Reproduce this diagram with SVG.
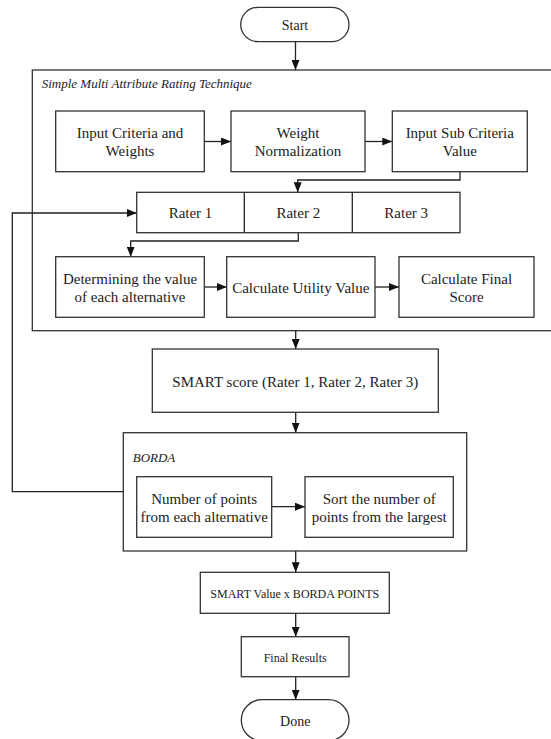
<svg xmlns="http://www.w3.org/2000/svg" width="551" height="739" viewBox="0 0 551 739">
<style>
  .box { fill: #fff; stroke: #333; stroke-width: 1.3; }
  .frame { fill: none; stroke: #333; stroke-width: 1.3; }
  .t { font-family: 'Liberation Serif', 'Times New Roman', Times, 'DejaVu Serif', serif; font-size: 15px; fill: #222; text-anchor: middle; }
  .s { font-size: 12px; }
  .term { font-size: 14px; }
  .lbl { font-family: 'Liberation Serif', 'Times New Roman', Times, 'DejaVu Serif', serif; font-size: 13px; font-style: italic; fill: #222; }
  .c { fill: none; stroke: #222; stroke-width: 1.3; marker-end: url(#ah); }
  .cn { fill: none; stroke: #222; stroke-width: 1.3; }
</style>
<defs>
  <marker id="ah" markerUnits="userSpaceOnUse" markerWidth="10" markerHeight="8" refX="10" refY="4" orient="auto">
    <path d="M0,0 L10,4 L0,8 z" fill="#111"/>
  </marker>
</defs>
<rect width="551" height="739" fill="#fff"/>

<g id="smart-frame">
  <rect class="frame" x="32.3" y="70" width="535" height="260.7"/>
  <text class="lbl" x="41.7" y="88">Simple Multi Attribute Rating Technique</text>
</g>
<g id="borda-frame">
  <rect class="frame" x="123.3" y="432.7" width="343.4" height="118.3"/>
  <text class="lbl" x="132.7" y="462">BORDA</text>
</g>

<g id="connectors">
  <path class="c" d="M295.5,41.7 V70"/>
  <path class="c" d="M204.3,141.5 H231"/>
  <path class="c" d="M365,141.5 H392.3"/>
  <path class="c" d="M460,171.7 V180 H297.7 V192.3"/>
  <path class="c" d="M298.3,232.7 V241 H130.7 V256.7"/>
  <path class="c" d="M204.3,287 H226.7"/>
  <path class="c" d="M375,287 H399"/>
  <path class="c" d="M295.7,330.7 V349"/>
  <path class="c" d="M295.7,412.3 V432.7"/>
  <path class="c" d="M271.7,506.7 H305"/>
  <path class="c" d="M123.3,491.7 H12.3 V213 H136.7"/>
  <path class="c" d="M295.7,551 V572.3"/>
  <path class="c" d="M295.7,613.3 V636.7"/>
  <path class="c" d="M295.7,676.7 V699.7"/>
</g>

<g id="start">
  <rect class="box" x="240.7" y="7.3" width="108.3" height="34.4" rx="17.2"/>
  <text class="t term" x="295" y="30">Start</text>
</g>

<g id="input-criteria">
  <rect class="box" x="55.7" y="111" width="148.6" height="60.7"/>
  <text class="t" x="130" y="138">Input Criteria and</text>
  <text class="t" x="130" y="156">Weights</text>
</g>
<g id="weight-normalization">
  <rect class="box" x="231" y="111" width="134" height="60.7"/>
  <text class="t" x="298" y="138">Weight</text>
  <text class="t" x="298" y="156">Normalization</text>
</g>
<g id="input-sub-criteria">
  <rect class="box" x="392.3" y="111" width="135" height="60.7"/>
  <text class="t" x="459.8" y="138">Input Sub Criteria</text>
  <text class="t" x="459.8" y="156">Value</text>
</g>

<g id="raters">
  <rect class="box" x="136.7" y="192.3" width="323.3" height="40.4"/>
  <line class="cn" x1="244.3" y1="192.3" x2="244.3" y2="232.7"/>
  <line class="cn" x1="352.3" y1="192.3" x2="352.3" y2="232.7"/>
  <text class="t" x="190.5" y="218">Rater 1</text>
  <text class="t" x="298.3" y="218">Rater 2</text>
  <text class="t" x="406.2" y="218">Rater 3</text>
</g>

<g id="determining-value">
  <rect class="box" x="55.7" y="256.7" width="148.6" height="60.6"/>
  <text class="t" x="130" y="284">Determining the value</text>
  <text class="t" x="130" y="302">of each alternative</text>
</g>
<g id="utility-value">
  <rect class="box" x="226.7" y="256.7" width="148.3" height="60.6"/>
  <text class="t" x="300.8" y="292.5">Calculate Utility Value</text>
</g>
<g id="final-score">
  <rect class="box" x="399" y="256.7" width="135" height="60.6"/>
  <text class="t" x="466.5" y="284">Calculate Final</text>
  <text class="t" x="466.5" y="302">Score</text>
</g>

<g id="smart-score">
  <rect class="box" x="152.3" y="349" width="286" height="63.3"/>
  <text class="t" x="295.3" y="387">SMART score (Rater 1, Rater 2, Rater 3)</text>
</g>

<g id="number-of-points">
  <rect class="box" x="136.7" y="476.7" width="135" height="60.6"/>
  <text class="t" x="204.2" y="503.5">Number of points</text>
  <text class="t" x="204.2" y="522">from each alternative</text>
</g>
<g id="sort-points">
  <rect class="box" x="305" y="476.7" width="148.3" height="60.6"/>
  <text class="t" x="379.2" y="503.5">Sort the number of</text>
  <text class="t" x="379.2" y="522">points from the largest</text>
</g>

<g id="smart-x-borda">
  <rect class="box" x="200.3" y="572.3" width="189" height="41"/>
  <text class="t s" x="294.8" y="598">SMART Value x BORDA POINTS</text>
</g>
<g id="final-results">
  <rect class="box" x="241.3" y="636.7" width="107.7" height="40"/>
  <text class="t s" x="295.2" y="661.5">Final Results</text>
</g>
<g id="done">
  <rect class="box" x="241.3" y="699.7" width="107.7" height="41" rx="20.5"/>
  <text class="t term" x="295.2" y="725.5">Done</text>
</g>
</svg>
